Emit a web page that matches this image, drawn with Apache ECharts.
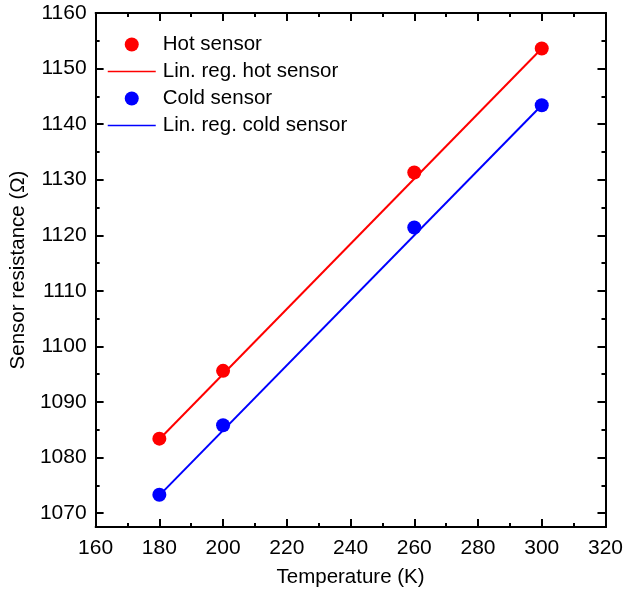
<!DOCTYPE html>
<html><head><meta charset="utf-8">
<script src="https://cdn.jsdelivr.net/npm/echarts@6/dist/echarts.min.js"></script>
<style>html,body{margin:0;padding:0;background:#fff}#c{width:626px;height:594px}</style>
</head><body><div id="c"></div>
<script>
var temps = [180, 200, 260, 300];
var hotValues = [1083.4, 1095.6, 1131.3, 1153.6];
var coldValues = [1073.3, 1085.8, 1121.4, 1143.4];
var fitX = [180, 300];
var hotFit = [1083.3, 1153.6];
var coldFit = [1073.2, 1143.4];
var yMajorTicks = [1070, 1080, 1090, 1100, 1110, 1120, 1130, 1140, 1150, 1160];
var yMinorTicks = [1075, 1085, 1095, 1105, 1115, 1125, 1135, 1145, 1155];
var names = ['Hot sensor', 'Lin. reg. hot sensor', 'Cold sensor', 'Lin. reg. cold sensor'];

var FONT = '"Liberation Sans", Arial, sans-serif';
var chart = echarts.init(document.getElementById('c'), null, {renderer: 'canvas'});
function pairs(xs, ys) { return xs.map(function (x, i) { return [x, ys[i]]; }); }
function plain(v) { return String(v); }
var axisLine = {show: true, onZero: false, lineStyle: {color: '#000', width: 2}};
function yAx(pos, ticks, len, labels) {
  return {
    type: 'value', position: pos, min: 1067.5, max: 1160,
    axisLine: axisLine,
    axisTick: {show: true, inside: true, length: len, customValues: ticks, lineStyle: {color: '#000', width: 2}},
    axisLabel: labels ? {show: true, customValues: ticks, formatter: plain, fontSize: 21, color: '#000', fontFamily: FONT, margin: 9} : {show: false},
    splitLine: {show: false},
    name: labels ? 'Sensor resistance (\u03A9)' : '',
    nameLocation: 'middle', nameGap: 60, nameRotate: 90,
    nameTextStyle: {fontSize: 20.5, color: '#000', fontFamily: FONT}
  };
}
function xAx(pos, labels) {
  return {
    type: 'value', position: pos, min: 160, max: 320, interval: 20,
    axisLine: axisLine,
    axisTick: {show: true, inside: true, length: 8, lineStyle: {color: '#000', width: 2}},
    minorTick: {show: true, splitNumber: 2, length: 4, lineStyle: {color: '#000', width: 2}},
    axisLabel: labels ? {show: true, formatter: plain, fontSize: 21, color: '#000', fontFamily: FONT, margin: 11} : {show: false},
    splitLine: {show: false}, minorSplitLine: {show: false},
    name: labels ? 'Temperature (K)' : '',
    nameLocation: 'middle', nameGap: 40,
    nameTextStyle: {fontSize: 20.5, color: '#000', fontFamily: FONT}
  };
}
var noSymbol = {color: 'rgba(0,0,0,0)', borderWidth: 0};
chart.setOption({
  animation: false,
  backgroundColor: '#fff',
  grid: {left: 95, right: 17, top: 13, bottom: 67, containLabel: false},
  legend: {
    orient: 'vertical', left: 107, top: 34, padding: 0, itemWidth: 48, itemHeight: 14, itemGap: 6,
    textStyle: {fontSize: 20.5, lineHeight: 20, color: '#000', fontFamily: FONT, padding: [0, 0, 0, 2]},
    data: [
      {name: names[0], icon: 'circle'},
      {name: names[1], itemStyle: noSymbol, lineStyle: {width: 1.5}},
      {name: names[2], icon: 'circle'},
      {name: names[3], itemStyle: noSymbol, lineStyle: {width: 1.5}}
    ]
  },
  xAxis: [xAx('bottom', true), xAx('top', false)],
  yAxis: [yAx('left', yMajorTicks, 8, true), yAx('left', yMinorTicks, 4, false),
          yAx('right', yMajorTicks, 8, false), yAx('right', yMinorTicks, 4, false)],
  series: [
    {name: names[1], type: 'line', data: pairs(fitX, hotFit), symbol: 'none', lineStyle: {color: '#ff0000', width: 2}, itemStyle: {color: '#ff0000'}, z: 2},
    {name: names[3], type: 'line', data: pairs(fitX, coldFit), symbol: 'none', lineStyle: {color: '#0000ff', width: 2}, itemStyle: {color: '#0000ff'}, z: 2},
    {name: names[0], type: 'scatter', data: pairs(temps, hotValues), symbol: 'circle', symbolSize: 14, itemStyle: {color: '#ff0000', opacity: 1}, z: 3},
    {name: names[2], type: 'scatter', data: pairs(temps, coldValues), symbol: 'circle', symbolSize: 14, itemStyle: {color: '#0000ff', opacity: 1}, z: 3}
  ]
});
</script></body></html>
